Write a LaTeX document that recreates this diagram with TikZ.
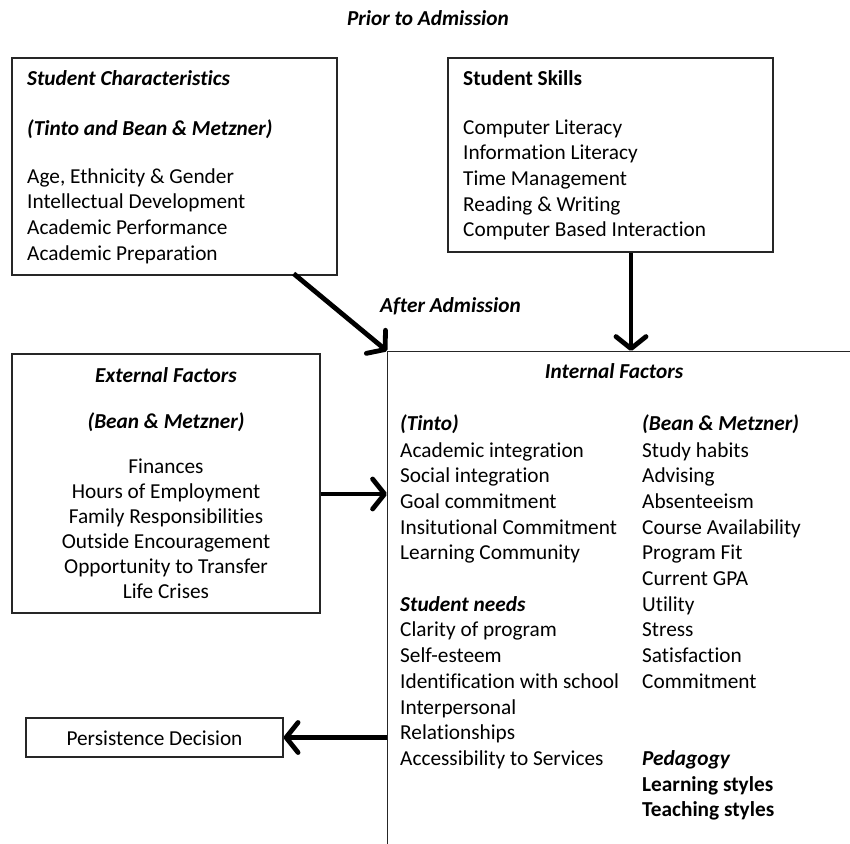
\documentclass[tikz,border=0pt]{standalone}
\usepackage{fontspec}
\setmainfont[Ligatures=NoCommon]{Carlito}
\usetikzlibrary{arrows.meta,calc}
\tikzset{
  txt/.style={font=\fontsize{21.3pt}{25.7pt}\selectfont, inner sep=0pt, anchor=base west},
  txtc/.style={txt, anchor=base},
  hdi/.style={font=\fontsize{21.3pt}{25.7pt}\selectfont\bfseries\itshape},
  hdb/.style={font=\fontsize{21.3pt}{25.7pt}\selectfont\bfseries},
  box/.style={draw=black!85, line width=1.3pt, rectangle, inner sep=0pt},
  conn/.style={line width=4.8pt, -{Straight Barb[length=12pt,width=30pt,round]}}
}
\begin{document}
\begin{tikzpicture}[x=1pt,y=-1pt]
\useasboundingbox (0,0) rectangle (850,843);
\clip (0,0) rectangle (850,843);
\fill[white] (0,0) rectangle (850,843);

% titles
\node[txtc, hdi] (prior) at (428,26) {Prior to Admission};
\node[txt, hdi] (after) at (380,312) {After Admission};

% boxes
\node[box, minimum width=325pt, minimum height=217pt] (sc) at (174.5,166.5) {};
\node[box, minimum width=325pt, minimum height=194pt] (ss) at (610.5,155) {};
\node[box, minimum width=308pt, minimum height=259pt] (ef) at (166,483.5) {};
\node[box, minimum width=257pt, minimum height=39pt] (pd) at (154.5,737.5) {};
\node[box, anchor=north west, minimum width=540pt, minimum height=540pt] (int) at (387,351) {};

% Student Characteristics
\node[txt, hdi] (sc-h1) at (27,85) {Student Characteristics};
\node[txt, hdi] (sc-h2) at (27,135) {(Tinto and Bean \& Metzner)};
\foreach \t [count=\i from 0] in {{Age, Ethnicity \& Gender},Intellectual Development,Academic Performance,Academic Preparation}
  \node[txt] (sc-\i) at (27,183+25.7*\i) {\t};

% Student Skills
\node[txt, hdb] (ss-h) at (463,85) {Student Skills};
\foreach \t [count=\i from 0] in {Computer Literacy,Information Literacy,Time Management,Reading \& Writing,Computer Based Interaction}
  \node[txt] (ss-\i) at (463,134+25.7*\i) {\t};

% External Factors
\node[txtc, hdi] (ef-h1) at (166,382) {External Factors};
\node[txtc, hdi] (ef-h2) at (166,428) {(Bean \& Metzner)};
\foreach \t [count=\i from 0] in {Finances,Hours of Employment,Family Responsibilities,Outside Encouragement,Opportunity to Transfer,Life Crises}
  \node[txtc] (ef-\i) at (166,473+25*\i) {\t};

% Persistence
\node[txtc] (pd-t) at (154.5,745) {Persistence Decision};

% Internal Factors
\node[txtc, hdi] (int-h) at (614,378) {Internal Factors};
\node[txt, hdi] (ti-h) at (400,430) {(Tinto)};
\node[txt, hdi] (bm-h) at (642,430) {(Bean \& Metzner)};
\foreach \r/\t in {0/Academic integration,1/Social integration,2/Goal commitment,3/Insitutional Commitment,4/Learning Community,7/Clarity of program,8/Self-esteem,9/Identification with school,10/Interpersonal,11/Relationships,12/Accessibility to Services}
  \node[txt] (ti-\r) at (400,457+25.7*\r) {\t};
\node[txt, hdi] (sn-h) at (400,457+25.7*6) {Student needs};
\foreach \r/\t in {0/Study habits,1/Advising,2/Absenteeism,3/Course Availability,4/Program Fit,5/Current GPA,6/Utility,7/Stress,8/Satisfaction,9/Commitment}
  \node[txt] (bm-\r) at (642,457+25.7*\r) {\t};
\node[txt, hdi] (pe-h) at (642,457+25.7*12) {Pedagogy};
\node[txt, hdb] (pe-1) at (642,457+25.7*13) {Learning styles};
\node[txt, hdb] (pe-2) at (642,457+25.7*14) {Teaching styles};

% connectors
\draw[conn] ([xshift=-44pt,yshift=2pt]sc.south east) -- (int.north west);
\draw[conn] ([xshift=20.5pt]ss.south) -- ([xshift=20.5pt]ss.south |- int.north);
\draw[conn] ([yshift=-10.5pt]ef.east) -- ([yshift=-10.5pt]ef.east -| int.west);
\draw[conn] (pd.east -| int.west) -- (pd.east);
\end{tikzpicture}
\end{document}
